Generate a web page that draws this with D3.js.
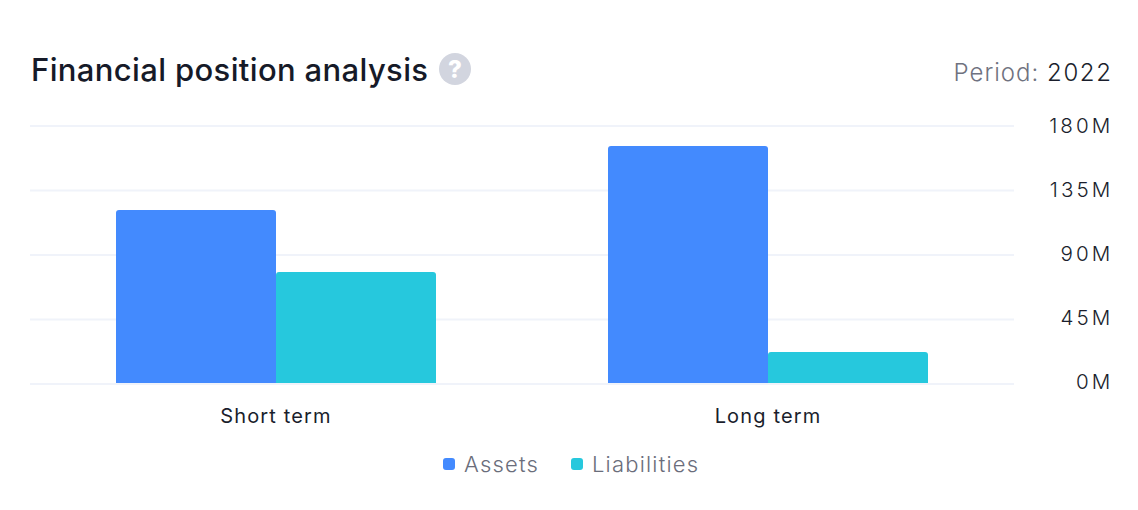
<!DOCTYPE html>
<html><head><meta charset="utf-8">
<script src="https://cdnjs.cloudflare.com/ajax/libs/d3/7.8.5/d3.min.js"></script>
<style>
html,body{margin:0;padding:0;background:#fff}
svg{display:block}
text{font-family:Inter,sans-serif}
</style></head><body>
<svg id="c" width="1138" height="510"></svg>
<script>
const categories = ["Short term","Long term"];
const seriesNames = ["Assets","Liabilities"];
const assets = [121.4,166];
const liabilities = [78.1,22.3];
const yTicks = [0,45,90,135,180];
const colors = ["#438afe","#26c8dd"];

const svg = d3.select("#c");
const x0 = d3.scaleBand().domain(categories).range([30,1014]);
const x1 = d3.scaleBand().domain(seriesNames).range([0,320]);
const y = d3.scaleLinear().domain([0,180]).range([384,126]);
const yLabel = d3.scaleLinear().domain([0,180]).range([382,126.5]);

// grid
svg.append("g").selectAll("line").data(yTicks).join("line")
  .attr("x1",30).attr("x2",1014)
  .attr("y1",d=>y(d)).attr("y2",d=>y(d))
  .attr("stroke","#f0f3fa").attr("stroke-width",2);

// y axis
const yAxis = d3.axisRight(yLabel).tickValues(yTicks).tickSize(0).tickPadding(0).tickFormat(d=>d+"M");
const ya = svg.append("g").attr("transform","translate(1113.5,-0.5)").call(yAxis);
ya.select(".domain").remove();
ya.selectAll("text").attr("x",0).attr("text-anchor","end")
  .attr("font-size",20.6).attr("letter-spacing",3.1).attr("font-weight",350).attr("fill","#1a1e2c").attr("font-family","Inter,sans-serif");

// bars
const rounded=(x,yt,w,h,r)=>`M${x},${yt+h}V${yt+r}Q${x},${yt} ${x+r},${yt}H${x+w-r}Q${x+w},${yt} ${x+w},${yt+r}V${yt+h}Z`;
[assets,liabilities].forEach((vals,s)=>{
  svg.append("g").selectAll("path").data(vals).join("path")
    .attr("fill",colors[s])
    .attr("d",(d,i)=>{
      const xx=x0(categories[i])+(x0.bandwidth()-320)/2+x1(seriesNames[s]);
      return rounded(xx,y(d),x1.bandwidth(),y(0)-y(d)-1,3);
    });
});

// x axis
const xAxis = d3.axisBottom(x0).tickSize(0).tickPadding(0);
const xa = svg.append("g").attr("transform","translate(0,383)").call(xAxis);
xa.select(".domain").remove();
xa.selectAll("text").attr("y",40).attr("dy",0)
  .attr("font-size",20).attr("letter-spacing",1.15).attr("font-weight",380).attr("fill","#1a1e2c").attr("font-family","Inter,sans-serif");

// title
svg.append("text").attr("x",31).attr("y",81).attr("font-size",31).attr("font-weight",550)
  .attr("letter-spacing",0.36).attr("fill","#161a28").text("Financial position analysis");
// help
svg.append("circle").attr("cx",455).attr("cy",69).attr("r",16).attr("fill","#d2d5df");
svg.append("text").attr("x",455).attr("y",78).attr("text-anchor","middle").attr("font-size",24).attr("font-weight",800).attr("fill","#fff").text("?");
// period
const p=svg.append("text").attr("x",1112.5).attr("y",81).attr("text-anchor","end").attr("font-size",24).attr("font-weight",350);
p.append("tspan").attr("fill","#6f7280").attr("letter-spacing",1).text("Period: ");
p.append("tspan").attr("fill","#1a1e2c").attr("letter-spacing",1.6).text("2022");

// legend
const legX=[442,570], legT=[464,592];
seriesNames.forEach((n,i)=>{
  svg.append("rect").attr("x",legX[i]+1).attr("y",458).attr("width",12).attr("height",12).attr("rx",3).attr("fill",colors[i]);
  svg.append("text").attr("x",legT[i]).attr("y",472).attr("font-size",22).attr("letter-spacing",1.2).attr("font-weight",350).attr("fill","#6a6d7b").text(n);
});
</script></body></html>
